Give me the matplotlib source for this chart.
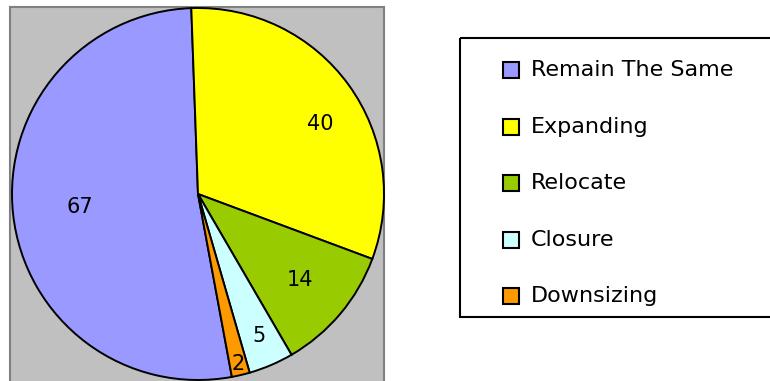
import numpy as np
import matplotlib.pyplot as plt
from matplotlib.patches import Rectangle

labels = ['Remain The Same', 'Expanding', 'Relocate', 'Closure', 'Downsizing']
values = [67, 40, 14, 5, 2]
colors = ['#9999ff', '#ffff00', '#99cc00', '#ccffff', '#ff9900']

W, H = 770, 381
fig = plt.figure(figsize=(W / 100, H / 100), dpi=100)

# background layer in pixel coords (y down)
bg = fig.add_axes([0, 0, 1, 1])
bg.set_xlim(0, W)
bg.set_ylim(H, 0)
bg.axis('off')
bg.add_patch(Rectangle((10, 7), 374, 390, facecolor='#c0c0c0',
                       edgecolor='#808080', lw=1.5))

# pie
cx, cy, r = 198, 194, 186
ax = fig.add_axes([(cx - r) / W, (H - cy - r) / H, 2 * r / W, 2 * r / H])
wedges, _ = ax.pie(values, colors=colors, startangle=-79.5, counterclock=False,
                   wedgeprops=dict(edgecolor='black', linewidth=1.4))
ax.set_xlim(-1, 1)
ax.set_ylim(-1, 1)

# label distance from centre (fraction of radius) and small angle nudge
label_r = [0.64, 0.76, 0.72, 0.83, 0.94]
label_nudge = [0, -6, 0, 0, 0]
for w, v, lr, dn in zip(wedges, values, label_r, label_nudge):
    ang = np.deg2rad((w.theta1 + w.theta2) / 2 + dn)
    ax.text(lr * np.cos(ang), lr * np.sin(ang), str(v), ha='center',
            va='center', fontsize=15)

# legend box
bg.add_patch(Rectangle((460, 38), 330, 279, fill=False, edgecolor='black', lw=1.5))
row_y = [70, 127, 183, 240, 296]
for lab, c, y in zip(labels, colors, row_y):
    bg.add_patch(Rectangle((503, y - 8), 16, 16, facecolor=c, edgecolor='black', lw=1.5))
    bg.text(531, y, lab, va='center', ha='left', fontsize=16)

fig.savefig('out.png', dpi=100)
